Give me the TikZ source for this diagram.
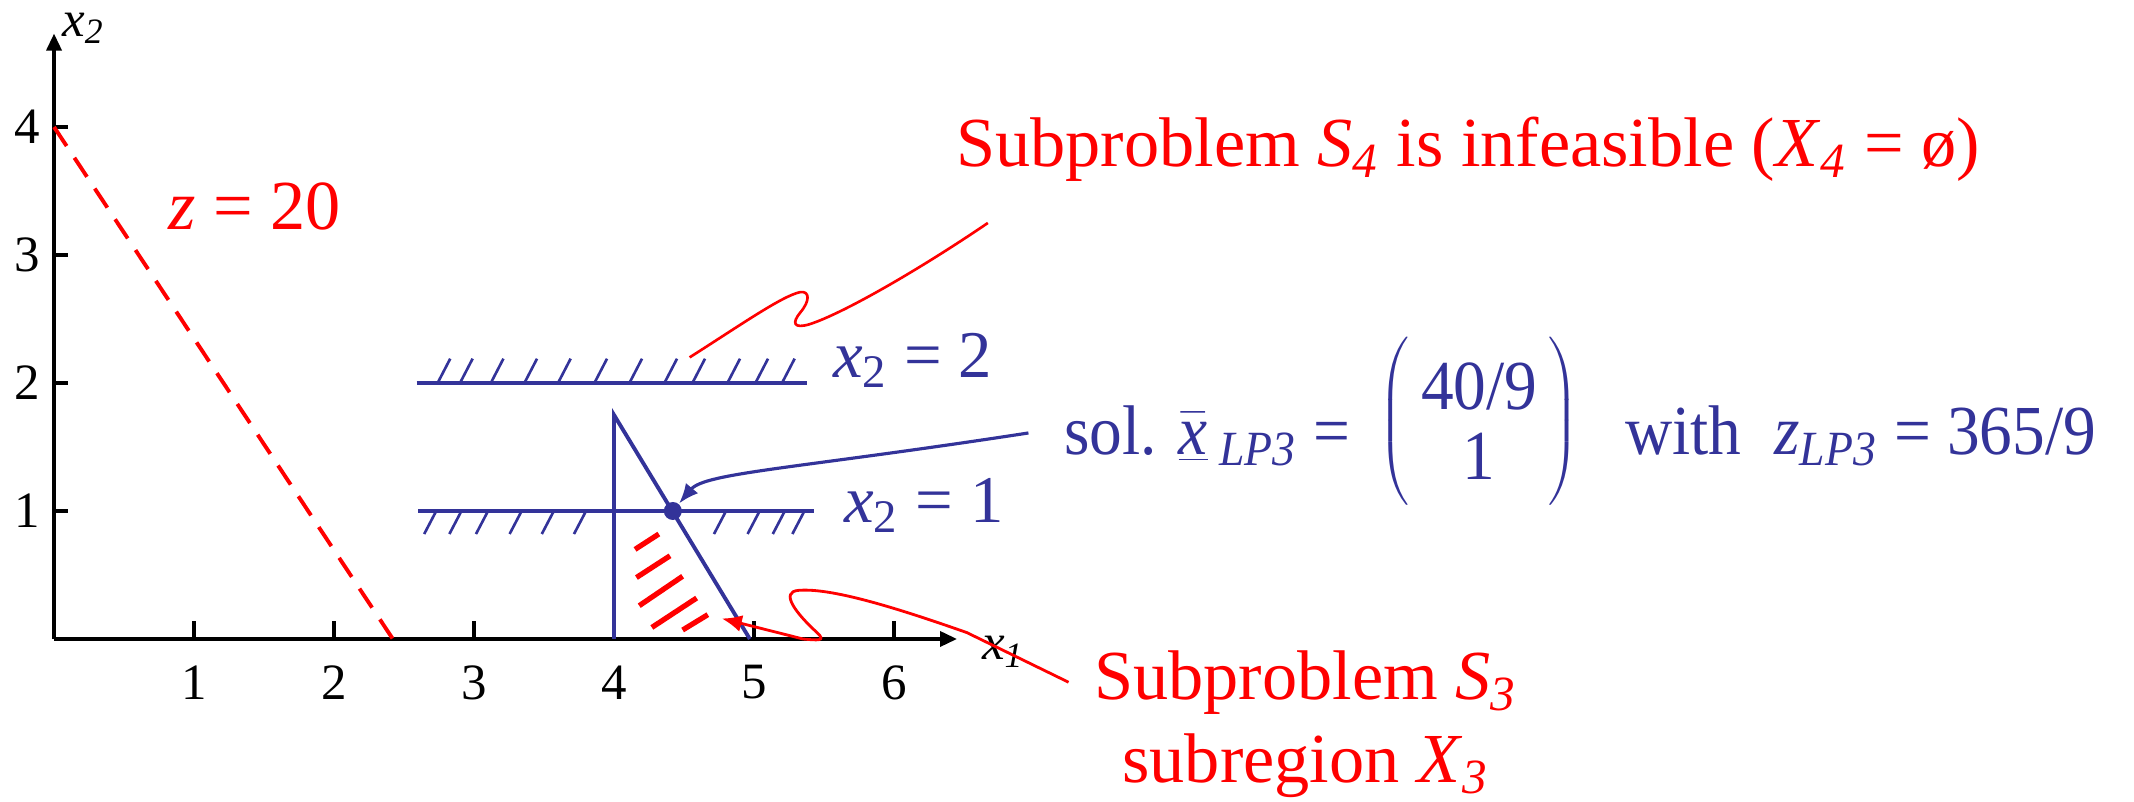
\documentclass[tikz,border=0pt]{standalone}
\usepackage{fontspec}
\setmainfont{Liberation Serif}
\newfontfamily\narrowserif{Liberation Serif}[FakeStretch=0.93]
\usetikzlibrary{arrows.meta,positioning}
\definecolor{Ink}{HTML}{333399}
\definecolor{Alert}{HTML}{FF0000}

\begin{document}
\begin{tikzpicture}[x=1.4cm,y=1.28cm,
  axisline/.style={line width=1pt,-{Triangle[length=1.7mm,width=1.5mm]}},
  tickmark/.style={line width=1pt},
  ticklabel/.style={font=\fontsize{14.5}{16}\selectfont,inner sep=0pt},
  axislabel/.style={font=\fontsize{14.5}{16}\selectfont\itshape,inner sep=0pt},
  bound/.style={draw=Ink,line width=1.1pt},
  hatch/.style={draw=Ink,line width=0.75pt},
  regionhatch/.style={draw=Alert,line width=1.5pt},
  isoline/.style={draw=Alert,line width=1.1pt,dash pattern=on 6.5pt off 4pt},
  redlabel/.style={text=Alert,font=\fontsize{20}{23}\selectfont,inner sep=0pt},
  bluelabel/.style={text=Ink,font=\fontsize{19}{22}\selectfont,inner sep=0pt},
  pointer/.style={draw=Alert,line width=0.75pt},
  redflow/.style={draw=Alert,line width=0.8pt,-{Latex[length=2mm,width=1.7mm]}},
  blueflow/.style={draw=Ink,line width=0.9pt,-{Latex[length=2mm,width=1.6mm]}},
  optdot/.style={circle,fill=Ink,inner sep=0pt,minimum size=1.8mm}]
  \useasboundingbox (-0.386,-1.273) rectangle (14.857,4.992);

  \draw[axisline] (0,0) -- (6.45,0);
  \draw[axisline] (0,0) -- (0,4.73);
  \node[axislabel] (xone) at (6.78,-0.10) {x\textsubscript{1}};
  \node[axislabel] (xtwo) at (0.21,4.77) {x\textsubscript{2}};
  \foreach \i in {1,...,6} {
    \draw[tickmark] (\i,0) -- (\i,0.14);
    \node[ticklabel] (tx\i) at (\i,-0.34) {\i};
  }
  \foreach \i in {1,...,4} {
    \draw[tickmark] (0,\i) -- (0.1,\i);
    \node[ticklabel] (ty\i) at (-0.19,\i) {\i};
  }

  \draw[isoline] (0,4) -- (2.42,0);
  \node[redlabel,anchor=base west] (zval) at (0.81,3.20) {\textit{z} = 20};

  \draw[bound] (2.59,2) -- (5.38,2);
  \foreach \h in {2.74,2.90,3.12,3.36,3.60,3.86,4.11,4.36,4.56,4.81,5.01,5.20}
    \draw[hatch] (\h,2) -- ++(0.09,0.19);
  \draw[bound] (2.60,1) -- (5.43,1);
  \foreach \h in {2.73,2.91,3.10,3.34,3.57,3.80,4.80,5.04,5.22,5.36}
    \draw[hatch] (\h,1) -- ++(-0.086,-0.18);
  \draw[bound] (4,0) -- (4,1.75) -- (4.97,0);

  \draw[regionhatch] (4.15,0.70) -- (4.32,0.82);
  \draw[regionhatch] (4.16,0.48) -- (4.40,0.65);
  \draw[regionhatch] (4.18,0.26) -- (4.49,0.49);
  \draw[regionhatch] (4.27,0.09) -- (4.59,0.32);
  \draw[regionhatch] (4.49,0.07) -- (4.67,0.19);

  \node[optdot] (opt) at (4.42,1) {};

  \node[bluelabel,anchor=base west] (ctwo) at (5.56,2.04) {\textit{x}\textsubscript{2} = 2};
  \node[bluelabel,anchor=base west] (cone) at (5.64,0.91) {\textit{x}\textsubscript{2} = 1};

  \node[text=Ink,font=\narrowserif\fontsize{20}{19.9}\selectfont,inner ysep=0pt,inner xsep=3.5mm,anchor=base west] (sol) at (6.96,1.44)
    {sol. $\underline{\bar{\textit{x}}}$\,\textsubscript{\textit{LP3}} =\, \raisebox{4.4pt}{$\left(\vrule height 28.2pt depth 18.2pt width 0pt
      \raisebox{-2.6pt}{\begin{tabular}{@{\,}c@{\,}}40/9\\1\end{tabular}}\right)$}\hspace{13pt}with\ \ \textit{z}\textsubscript{\textit{LP3}} = 365/9};

  \node[redlabel,anchor=base west] (sfour) at (6.44,3.69)
    {Subproblem \textit{S}\textsubscript{\textit{4}} is infeasible (\textit{X}\textsubscript{\textit{4}} = ø)};
  \node[redlabel,anchor=base,inner xsep=2.5mm] (sthree) at (8.94,-0.47) {Subproblem \textit{S}\textsubscript{\textit{3}}};
  \node[redlabel,anchor=base] (sthreesub) at (8.94,-1.12) {subregion \textit{X}\textsubscript{\textit{3}}};

  \coordinate (sfourtail) at (6.67,3.25);
  \coordinate (sfourend) at (4.54,2.20);
  \coordinate (sthreetip) at (4.77,0.16);

  \draw[pointer] (sfourtail) .. controls (6.2,2.90) and (5.65,2.55) .. (5.40,2.46)
    .. controls (5.28,2.42) and (5.27,2.47) .. (5.33,2.55)
    .. controls (5.40,2.64) and (5.40,2.72) .. (5.33,2.71)
    .. controls (5.2,2.68) and (4.9,2.45) .. (sfourend);
  \draw[redflow] (sthree.west) -- (6.52,0.05) .. controls (6.0,0.25) and (5.55,0.40) .. (5.32,0.38)
    .. controls (5.18,0.37) and (5.3,0.2) .. (5.45,0.05)
    .. controls (5.52,-0.02) and (5.45,-0.01) .. (5.35,0.0) -- (sthreetip);
  \draw[blueflow] ([yshift=-1.2mm]sol.west) .. controls (5.3,1.33) and (4.65,1.3) .. (opt);
\end{tikzpicture}
\end{document}
